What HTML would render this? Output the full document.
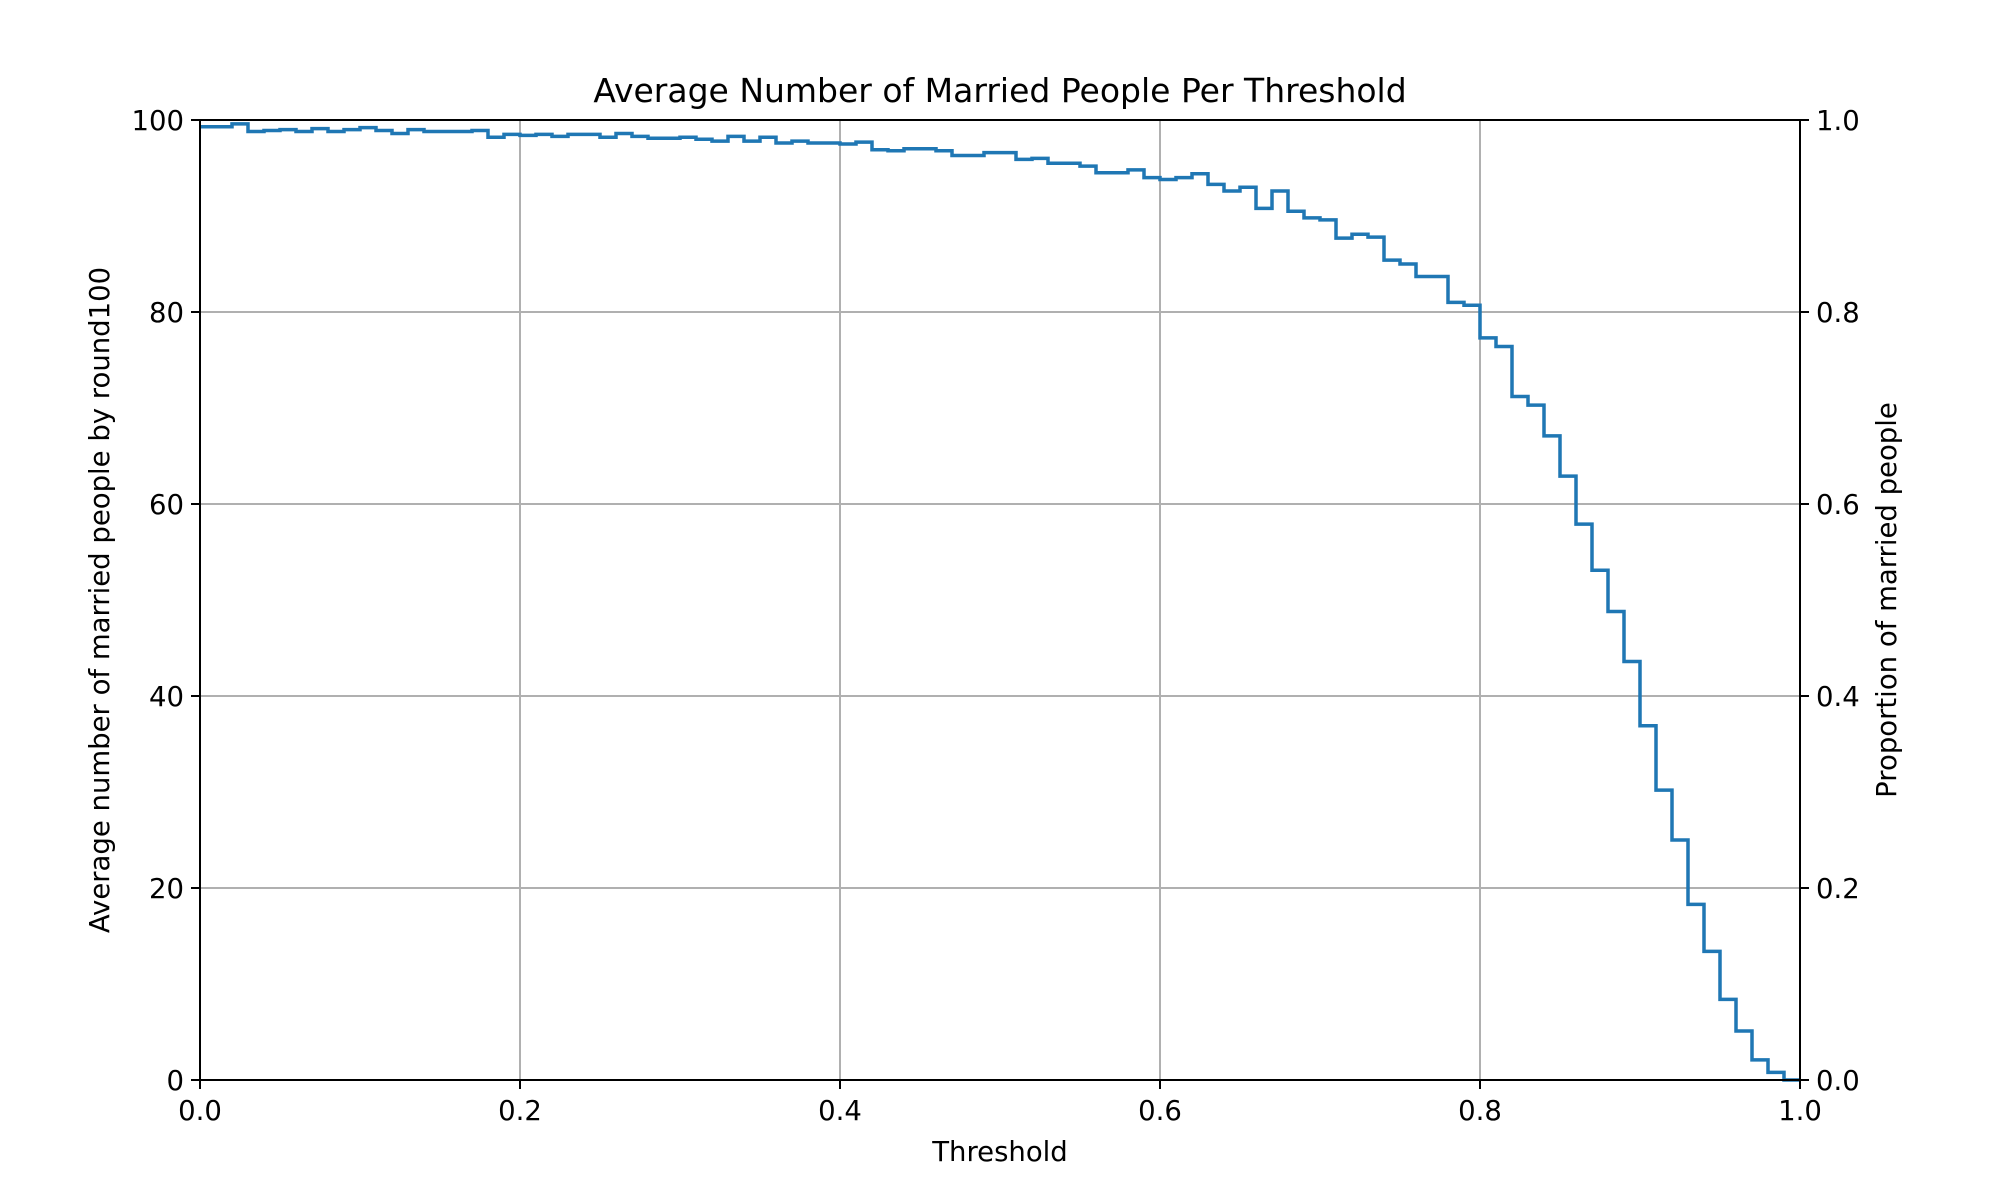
<!DOCTYPE html>
<html><head><meta charset="utf-8"><style>
html,body{margin:0;padding:0;background:#fff;}
svg{display:block;font-family:"DejaVu Sans","Liberation Sans",sans-serif;}
</style></head><body>
<svg id="chart" width="2000" height="1200" viewBox="0 0 2000 1200" xmlns="http://www.w3.org/2000/svg">
<rect width="2000" height="1200" fill="#fff"/>
<g id="grid"></g>
<g id="series"></g>
<rect x="200" y="120" width="1600" height="960" fill="none" stroke="#000" stroke-width="2"/>
<g id="ticks"></g>
<text x="1000" y="102" font-size="33" text-anchor="middle">Average Number of Married People Per Threshold</text>
<text x="1000" y="1161" font-size="27.5" text-anchor="middle">Threshold</text>
<text transform="translate(109,600) rotate(-90)" font-size="27.5" text-anchor="middle">Average number of married people by round100</text>
<text transform="translate(1896,600) rotate(-90)" font-size="27.5" text-anchor="middle">Proportion of married people</text>
</svg>
<script>
const values = [99.3,99.3,99.6,98.8,98.9,99.0,98.8,99.1,98.8,99.0,
99.2,98.9,98.6,99.0,98.8,98.8,98.8,98.9,98.2,98.5,
98.4,98.5,98.3,98.5,98.5,98.2,98.6,98.3,98.1,98.1,
98.2,98.0,97.8,98.3,97.8,98.2,97.6,97.8,97.6,97.6,
97.5,97.7,96.9,96.8,97.0,97.0,96.8,96.3,96.3,96.6,
96.6,95.9,96.0,95.5,95.5,95.2,94.5,94.5,94.8,94.0,
93.8,94.0,94.4,93.3,92.6,93.0,90.8,92.6,90.5,89.8,
89.6,87.7,88.1,87.8,85.4,85.0,83.7,83.7,81.0,80.7,
77.3,76.4,71.2,70.3,67.1,62.9,57.9,53.1,48.8,43.6,
36.9,30.2,25.0,18.3,13.4,8.4,5.1,2.1,0.8,0.0];
const binWidth = 0.01;
const xTicks = [0,0.2,0.4,0.6,0.8,1.0];
const xTickLabels = ["0.0","0.2","0.4","0.6","0.8","1.0"];
const yTicks = [0,20,40,60,80,100];
const yTickLabels = ["0","20","40","60","80","100"];
const y2Ticks = [0,0.2,0.4,0.6,0.8,1.0];
const y2TickLabels = ["0.0","0.2","0.4","0.6","0.8","1.0"];

const X0=200,X1=1800,Y0=1080,Y1=120;
const sx = v => X0 + (X1-X0)*v;
const sy = v => Y0 - (Y0-Y1)*v/100;
const sy2 = v => Y0 - (Y0-Y1)*v;
const NS="http://www.w3.org/2000/svg";
const grid=document.getElementById('grid'), ticks=document.getElementById('ticks'), series=document.getElementById('series');
function mk(tag, attrs, parent){const e=document.createElementNS(NS,tag);for(const k in attrs)e.setAttribute(k,attrs[k]);parent.appendChild(e);return e;}

xTicks.forEach((t,i)=>{
  const x=sx(t);
  const g=mk('line',{x1:x,x2:x,y1:Y1,y2:Y0,stroke:'#b0b0b0','stroke-width':2},grid);
  
  
  const tk=mk('line',{x1:x,x2:x,y1:Y0,y2:Y0+9,stroke:'#000','stroke-width':2},ticks);
  
  
  const lb=mk('text',{x:x,y:Y0+40,'font-size':27.5,'text-anchor':'middle'},ticks);
  lb.textContent=xTickLabels[i];
  
  
});
yTicks.forEach((t,i)=>{
  const y=sy(t);
  const g=mk('line',{x1:X0,x2:X1,y1:y,y2:y,stroke:'#b0b0b0','stroke-width':2},grid);
  
  
  const tk=mk('line',{x1:X0-9,x2:X0,y1:y,y2:y,stroke:'#000','stroke-width':2},ticks);
  
  
  const lb=mk('text',{x:X0-16,y:y+10,'font-size':27.5,'text-anchor':'end'},ticks);
  lb.textContent=yTickLabels[i];
  
  
});
y2Ticks.forEach((t,i)=>{
  const y=sy2(t);
  const tk=mk('line',{x1:X1,x2:X1+9,y1:y,y2:y,stroke:'#000','stroke-width':2},ticks);
  
  
  const lb=mk('text',{x:X1+16,y:y+10,'font-size':27.5,'text-anchor':'start'},ticks);
  lb.textContent=y2TickLabels[i];
  
  
});
let d='';
values.forEach((v,i)=>{
  const xa=sx(i*binWidth), xb=sx((i+1)*binWidth), y=sy(v);
  d += (i===0?'M':'L')+xa+' '+y+' L'+xb+' '+y+' ';
});
const path=mk('path',{d:d,fill:'none',stroke:'#1f77b4','stroke-width':3.5,'stroke-linejoin':'miter'},series);


</script>
</body></html>
